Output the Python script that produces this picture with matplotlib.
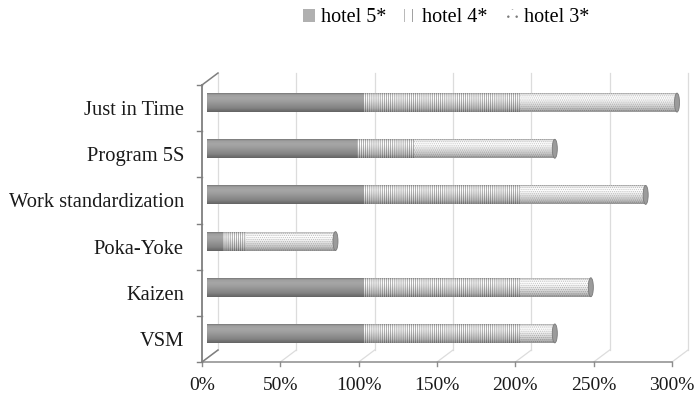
import numpy as np
import matplotlib.pyplot as plt
import matplotlib.transforms as mtransforms
from matplotlib.patches import Patch, Ellipse

plt.rcParams['font.family'] = ['Liberation Serif', 'DejaVu Serif']
plt.rcParams['hatch.linewidth'] = 0.5

# lean tools used by hotel category (stacked shares)
methods = ["VSM", "Kaizen", "Poka-Yoke", "Work standardization", "Program 5S", "Just in Time"]
hotel5 = [100, 100, 10, 100, 96, 100]
hotel4 = [100, 100, 15, 100, 36, 100]
hotel3 = [22, 45, 57, 80, 90, 100]
xticks = [0, 50, 100, 150, 200, 250, 300]
xlabels = ["0%", "50%", "100%", "150%", "200%", "250%", "300%"]

h5 = np.array(hotel5)
h4 = np.array(hotel4)
h3 = np.array(hotel3)
total = h5 + h4 + h3
ypos = np.arange(len(methods))

fig = plt.figure(figsize=(6.96, 3.97), dpi=100)
ax = fig.add_axes([202/696, 35/397, 470/696, 277/397])
ax.set_xlim(0, 300)
ax.set_ylim(-0.5, 5.5)

# pixel -> data units, used for the fake 3d depth
px_x = 300/470
px_y = 6/277
DX, DY = 16*px_x, 12*px_y

# bars sit half way into the depth
mid = ax.transData + mtransforms.ScaledTranslation(5/100, 5.5/100, fig.dpi_scale_trans)

# back wall gridlines and floor lines
for x in xticks:
    ax.plot([x + DX, x + DX], [-0.5 + DY, 5.5 + DY], color='#dcdcdc', lw=0.9, clip_on=False, zorder=0)
    ax.plot([x, x + DX], [-0.5, -0.5 + DY], color='#dcdcdc', lw=0.9, clip_on=False, zorder=0)
    ax.plot([x, x], [-0.5, -0.5 - 4*px_y], color='#8c8c8c', lw=1, clip_on=False)

# left wall and front axis
ax.plot([0, 0], [-0.5, 5.5], color='#7f7f7f', lw=1.3, clip_on=False)
ax.plot([0, 300], [-0.5, -0.5], color='#8c8c8c', lw=1.1, clip_on=False)
ax.plot([0, DX], [5.5, 5.5 + DY], color='#7f7f7f', lw=1.1, clip_on=False)
ax.plot([0, DX], [-0.5, -0.5 + DY], color='#7f7f7f', lw=1.1, clip_on=False)
for b in np.arange(-0.5, 6, 1):
    ax.plot([-5*px_x, 0], [b, b], color='#7f7f7f', lw=1, clip_on=False)

bh = 0.41
ax.barh(ypos, h5, height=bh, color='#a6a6a6', lw=0, transform=mid, zorder=2, clip_on=False)
ax.barh(ypos, h4, left=h5, height=bh, color='white', edgecolor='#929292',
        hatch='|'*8, lw=0, transform=mid, zorder=2, clip_on=False)
ax.barh(ypos, h3, left=h5 + h4, height=bh, color='white', edgecolor='#c4c4c4',
        hatch='.'*8, lw=0, transform=mid, zorder=2, clip_on=False)

# cylinder shading: darker at the bottom, highlight near the top
t = np.linspace(0, 1, 40)
alpha = np.interp(t, [0, 0.08, 0.25, 0.45, 0.8, 1], [0.28, 0.05, 0.0, 0.06, 0.22, 0.4])
shade = np.zeros((40, 1, 4))
shade[:, 0, 3] = alpha
for y, tot in zip(ypos, total):
    im = ax.imshow(shade, extent=(0, tot, y - bh/2, y + bh/2), aspect='auto',
                   transform=mid, zorder=3, interpolation='bilinear')
    im.set_clip_on(False)
    ax.add_patch(Ellipse((tot, y), 3.2, bh, facecolor='#9b9b9b', edgecolor='#7a7a7a',
                         lw=0.6, transform=mid, zorder=4, clip_on=False))

ax.set_xlim(0, 300)
ax.set_ylim(-0.5, 5.5)
ax.set_xticks(xticks)
ax.set_xticklabels(xlabels, fontsize=14)
ax.set_yticks(ypos)
ax.set_yticklabels(methods, fontsize=14.8)
ax.tick_params(axis='x', length=0, pad=11, colors='#1a1a1a')
ax.tick_params(axis='y', length=0, pad=13, colors='#1a1a1a')
for s in ax.spines.values():
    s.set_visible(False)

handles = [Patch(facecolor='#b0b0b0', lw=0, label='hotel 5*'),
           Patch(facecolor='white', edgecolor='#7a7a7a', hatch='||', lw=0, label='hotel 4*'),
           Patch(facecolor='white', edgecolor='#7a7a7a', hatch='..', lw=0, label='hotel 3*')]
fig.legend(handles=handles, loc='center', bbox_to_anchor=(0.641, 0.955), ncol=3,
           frameon=False, fontsize=14.5, handlelength=0.6, handleheight=0.6,
           handletextpad=0.3, columnspacing=0.9)

plt.savefig("out.png", dpi=100)
